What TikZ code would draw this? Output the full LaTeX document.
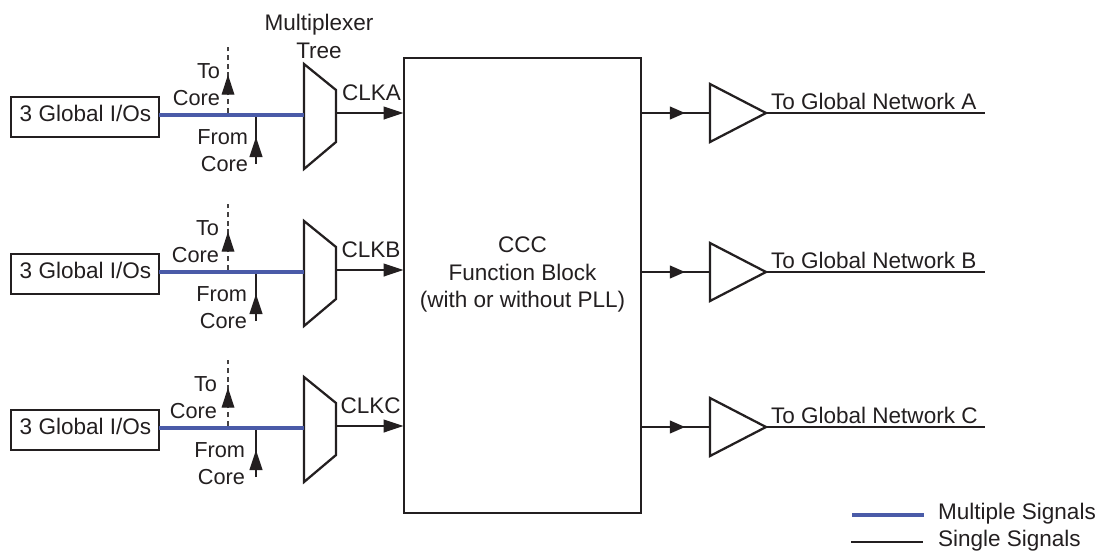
\documentclass[tikz,border=0pt]{standalone}
\usepackage{fontspec}
\setmainfont{Liberation Sans}
\usetikzlibrary{arrows.meta,decorations.markings}
\definecolor{ink}{HTML}{231F20}
\definecolor{busblue}{HTML}{4A5BA8}
\tikzset{
  x=0.75pt,y=-0.75pt,
  every node/.style={font=\fontsize{16.9}{20.4}\selectfont,text=ink,inner sep=0pt,outer sep=0pt},
  sidelab/.style={font=\fontsize{16.3}{20.4}\selectfont},
  wire/.style={draw=ink,line width=1.7pt},
  thinwire/.style={draw=ink!85,line width=0.9pt},
  bus/.style={draw=busblue,line width=3.4pt},
  outlined/.style={draw=ink,line width=1.5pt},
  head/.style={postaction={decorate},decoration={markings,mark=at position #1 with {\arrow{Triangle[length=15pt,width=9.5pt,color=ink]}}}},
  shorthead/.style={postaction={decorate},decoration={markings,mark=at position #1 with {\arrow{Triangle[length=11.5pt,width=9.5pt,color=ink]}}}},
  lab/.style={align=center},
}
\begin{document}
\begin{tikzpicture}
\useasboundingbox (0,0) rectangle (1098,551);
\node[lab] (mt) at (319,36.5) {Multiplexer\\Tree};
\node[outlined,minimum width=178pt,minimum height=341pt,anchor=north west] (ccc) at (403.5,58) {};
\node[lab] (cccl) at (522.5,274.5) {CCC\\Function Block\\(with or without PLL)};
\foreach \n/\y/\yo/\clk/\net/\lx/\ly in {a/115/113/CLKA/A/0/0,b/272/272/CLKB/B/-1/0,c/428/427/CLKC/C/-3/0}{
  \begin{scope}[yshift={-0.75pt*(\y-115)}]
    \node[outlined,minimum width=111pt,minimum height=30pt,anchor=west] (io\n) at (11,117) {};
    \node (iol\n) at (85.5,113) {3 Global I/Os};
    \coordinate (m1\n) at (304,64);
    \coordinate (m2\n) at (336,90);
    \coordinate (m3\n) at (336,142);
    \coordinate (m4\n) at (304,169);
    \draw[wire,line join=miter] (m1\n) -- (m2\n) -- (m3\n) -- (m4\n) -- cycle;
    \coordinate (mi\n) at (304,115);
    \coordinate (mo\n) at (336,113);
    \coordinate (tt\n) at (228,47);
    \coordinate (tb\n) at (228,113);
    \coordinate (ft\n) at (256,115);
    \coordinate (fb\n) at (256,164);
    \draw[thinwire,dashed,dash pattern=on 4pt off 2.6pt,head=0.58] (tb\n) -- (tt\n);
    \draw[wire,head=0.55] (fb\n) -- (ft\n);
    \draw[bus] (io\n.east) ++(0,-2) -- (mi\n);
    \draw[wire,-{Triangle[length=15pt,width=9.5pt,color=ink]}] (mo\n) -- (ccc.west |- mo\n);
    \node[sidelab,anchor=east] (lt\n) at (220+\lx,71) {To};
    \node[sidelab,anchor=east] (lc\n) at (220+\lx,98) {Core};
    \node[sidelab,anchor=east] (lf\n) at (248+\lx,137) {From};
    \node[sidelab,anchor=east] (lg\n) at (248+\lx,164) {Core};
    \node[anchor=west] (lk\n) at (342+0.5*\lx,93) {\clk};
  \end{scope}
  \begin{scope}[yshift={-0.75pt*(\yo-113)}]
    \coordinate (ti\n) at (710,113);
    \coordinate (tu\n) at (710,84);
    \coordinate (td\n) at (710,142);
    \coordinate (tr\n) at (766,113);
    \coordinate (oe\n) at (985,113);
    \draw[wire] (tu\n) -- (tr\n) -- (td\n) -- cycle;
    \draw[wire,shorthead=0.64] (ccc.east |- ti\n) -- (ti\n);
    \draw[wire] (tr\n) -- (oe\n);
    \node[anchor=west] (ln\n) at (771,101) {To Global Network \net};
  \end{scope}
}
\coordinate (l1) at (852,515);
\coordinate (l2) at (924,515);
\coordinate (l3) at (851,542);
\coordinate (l4) at (923,542);
\draw[bus] (l1) -- (l2);
\draw[wire] (l3) -- (l4);
\node[anchor=west] (lm) at (938,514) {Multiple Signals};
\node[anchor=west] (ls) at (938,541) {Single Signals};
\end{tikzpicture}
\end{document}
